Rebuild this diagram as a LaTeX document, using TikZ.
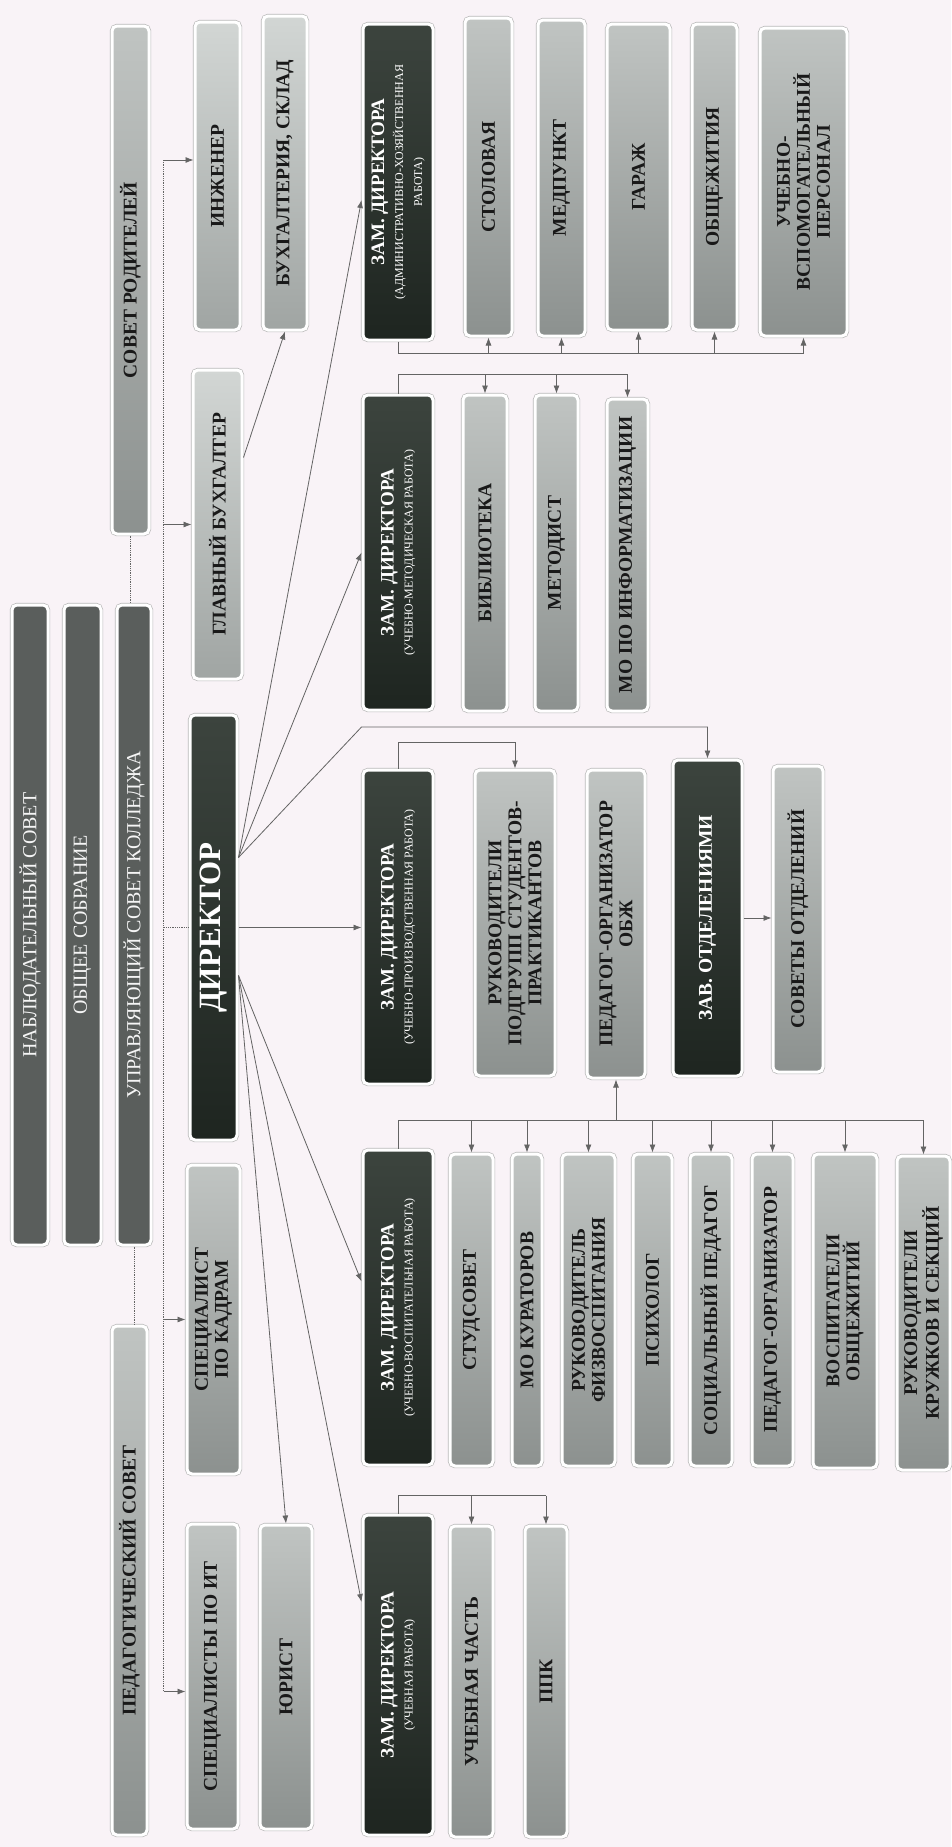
\documentclass[tikz,border=0pt]{standalone}
\usepackage{fontspec}
\setmainfont{Liberation Serif}
\usetikzlibrary{arrows.meta}
\definecolor{bgpaper}{RGB}{249,243,247}
\definecolor{zamtop}{RGB}{60,68,62}
\definecolor{zambot}{RGB}{30,37,32}
\definecolor{sovfill}{RGB}{90,94,92}
\definecolor{boxtop}{RGB}{192,196,194}
\definecolor{boxbot}{RGB}{140,145,143}
\definecolor{paletop}{RGB}{210,214,212}
\definecolor{palebot}{RGB}{160,165,163}
\definecolor{linegray}{RGB}{100,100,100}
\newcommand{\zamsub}{\fontsize{12}{12}\selectfont\mdseries}

\begin{document}
\begin{tikzpicture}[x=1pt, y=-1pt, >={Latex[length=8pt,width=6pt]},
    every node/.style={rotate=90, rounded corners=5pt, align=center, inner sep=2pt},
    rim/.style={draw=white, line width=3pt, preaction={draw=gray!55, line width=4.4pt}},
    lightbox/.style={rim, top color=boxtop, bottom color=boxbot, text=black!90,
        font=\fontsize{19.5}{20}\selectfont\bfseries},
    palebox/.style={lightbox, top color=paletop, bottom color=palebot},
    zambox/.style={rim, top color=zamtop, bottom color=zambot, text=white,
        font=\fontsize{19}{19}\selectfont\bfseries},
    sovbox/.style={rim, fill=sovfill, text=white!92!gray,
        font=\fontsize{20}{20}\selectfont},
    link/.style={draw=linegray, line width=0.8pt},
    bus/.style={link, densely dotted}]
    \useasboundingbox (0,0) rectangle (951,1847);
    \fill[bgpaper] (0,0) rectangle (951,1847);

    % councils
    \node[sovbox, minimum width=640pt, minimum height=36pt] (nab) at (30,925) {НАБЛЮДАТЕЛЬНЫЙ СОВЕТ};
    \node[sovbox, minimum width=640pt, minimum height=37pt] (obs) at (82.5,925) {ОБЩЕЕ СОБРАНИЕ};
    \node[sovbox, minimum width=640pt, minimum height=34pt] (upr) at (134,925) {УПРАВЛЯЮЩИЙ СОВЕТ КОЛЛЕДЖА};
    \node[lightbox, minimum width=508pt, minimum height=37pt] (srod) at (130.5,280) {СОВЕТ РОДИТЕЛЕЙ};
    \node[lightbox, minimum width=509pt, minimum height=35pt] (ped) at (129.5,1580.5) {ПЕДАГОГИЧЕСКИЙ СОВЕТ};

    % director and staff
    \node[palebox, minimum width=308pt, minimum height=45pt] (inz) at (217.5,176) {ИНЖЕНЕР};
    \node[palebox, minimum width=314pt, minimum height=44pt] (buh) at (285,173) {БУХГАЛТЕРИЯ, СКЛАД};
    \node[palebox, minimum width=309pt, minimum height=49pt] (glb) at (217.5,524.5) {ГЛАВНЫЙ БУХГАЛТЕР};
    \node[zambox, minimum width=425pt, minimum height=47pt,
        font=\fontsize{31}{31}\selectfont\bfseries] (dir) at (213.5,927.5) {ДИРЕКТОР};
    \node[lightbox, minimum width=309pt, minimum height=53pt] (kadr) at (213.5,1319.5) {СПЕЦИАЛИСТ\\ПО КАДРАМ};
    \node[lightbox, minimum width=305pt, minimum height=51pt] (spit) at (212.5,1676.5) {СПЕЦИАЛИСТЫ ПО ИТ};
    \node[lightbox, minimum width=304pt, minimum height=52pt] (yur) at (286,1677) {ЮРИСТ};

    % deputies
    \node[zambox, minimum width=316pt, minimum height=70pt] (zamAHR) at (398,182)
        {ЗАМ. ДИРЕКТОРА\\{\zamsub (АДМИНИСТРАТИВНО-ХОЗЯЙСТВЕННАЯ}\\{\zamsub РАБОТА)}};
    \node[zambox, minimum width=315pt, minimum height=70pt] (zamUMR) at (398,552.5)
        {ЗАМ. ДИРЕКТОРА\\{\zamsub (УЧЕБНО-МЕТОДИЧЕСКАЯ РАБОТА)}};
    \node[zambox, minimum width=314pt, minimum height=70pt] (zamUPR) at (398,927)
        {ЗАМ. ДИРЕКТОРА\\{\zamsub (УЧЕБНО-ПРОИЗВОДСТВЕННАЯ РАБОТА)}};
    \node[zambox, minimum width=315pt, minimum height=70pt] (zamUVR) at (398,1307.5)
        {ЗАМ. ДИРЕКТОРА\\{\zamsub (УЧЕБНО-ВОСПИТАТЕЛЬНАЯ РАБОТА)}};
    \node[zambox, minimum width=320pt, minimum height=70pt] (zamUR) at (398,1675)
        {ЗАМ. ДИРЕКТОРА\\{\zamsub (УЧЕБНАЯ РАБОТА)}};

    % administrative services
    \node[lightbox, minimum width=318pt, minimum height=47pt] (stol) at (488.5,177) {СТОЛОВАЯ};
    \node[lightbox, minimum width=316pt, minimum height=47pt] (medp) at (561.5,178) {МЕДПУНКТ};
    \node[lightbox, minimum width=306pt, minimum height=63pt] (gar) at (638.5,177) {ГАРАЖ};
    \node[lightbox, minimum width=306pt, minimum height=45pt] (obsch) at (714.5,177) {ОБЩЕЖИТИЯ};
    \node[lightbox, minimum width=308pt, minimum height=87pt] (uvp) at (803.5,182) {УЧЕБНО-\\ВСПОМОГАТЕЛЬНЫЙ\\ПЕРСОНАЛ};

    % methodical work
    \node[lightbox, minimum width=316pt, minimum height=44pt] (bibl) at (485,553) {БИБЛИОТЕКА};
    \node[lightbox, minimum width=316pt, minimum height=43pt] (metod) at (556.5,553) {МЕТОДИСТ};
    \node[lightbox, minimum width=312pt, minimum height=41pt] (moinf) at (627.5,555) {МО ПО ИНФОРМАТИЗАЦИИ};

    % practical work
    \node[lightbox, minimum width=306pt, minimum height=80pt] (rukp) at (515,923) {РУКОВОДИТЕЛИ\\ПОДГРУПП СТУДЕНТОВ-\\ПРАКТИКАНТОВ};
    \node[lightbox, minimum width=308pt, minimum height=58pt] (obzh) at (616,924) {ПЕДАГОГ-ОРГАНИЗАТОР\\ОБЖ};
    \node[zambox, minimum width=316pt, minimum height=69pt, font=\fontsize{19.5}{20}\selectfont\bfseries] (zav) at (707.5,918) {ЗАВ. ОТДЕЛЕНИЯМИ};
    \node[lightbox, minimum width=306pt, minimum height=50pt] (sovo) at (798,919) {СОВЕТЫ ОТДЕЛЕНИЙ};

    % educational work
    \node[lightbox, minimum width=312pt, minimum height=43pt] (stud) at (471.5,1310) {СТУДСОВЕТ};
    \node[lightbox, minimum width=312pt, minimum height=30pt] (mokur) at (527,1310) {МО КУРАТОРОВ};
    \node[lightbox, minimum width=312pt, minimum height=53pt] (fizv) at (588.5,1310) {РУКОВОДИТЕЛЬ\\ФИЗВОСПИТАНИЯ};
    \node[lightbox, minimum width=312pt, minimum height=39pt] (psih) at (652.5,1310) {ПСИХОЛОГ};
    \node[lightbox, minimum width=312pt, minimum height=42pt] (socp) at (711,1310) {СОЦИАЛЬНЫЙ ПЕДАГОГ};
    \node[lightbox, minimum width=312pt, minimum height=41pt] (porg) at (772.5,1310) {ПЕДАГОГ-ОРГАНИЗАТОР};
    \node[lightbox, minimum width=314pt, minimum height=64pt] (vosp) at (845,1311) {ВОСПИТАТЕЛИ\\ОБЩЕЖИТИЙ};
    \node[lightbox, minimum width=314pt, minimum height=53pt] (rkruz) at (923.5,1313) {РУКОВОДИТЕЛИ\\КРУЖКОВ И СЕКЦИЙ};

    % teaching
    \node[lightbox, minimum width=311pt, minimum height=43pt] (uchch) at (471.5,1681.5) {УЧЕБНАЯ ЧАСТЬ};
    \node[lightbox, minimum width=311pt, minimum height=42pt] (ppk) at (546,1681.5) {ППК};

    % council links
    \draw[bus] (srod.west) -- (srod.west |- upr.east);
    \draw[bus] (upr.west) -- (upr.west |- ped.east);

    % staff bus left of the director
    \coordinate (busl) at ([xshift=-25pt]dir.north);
    \coordinate (inzA) at ([yshift=16pt]inz.north);
    \coordinate (itA) at ([yshift=-15pt]spit.north);
    \draw[bus] (dir.north) -- (busl);
    \draw[bus] (busl |- inzA) -- (busl |- itA);
    \foreach \t in {inzA, glb.north, kadr.north, itA}
        \draw[link, ->] (busl |- \t) -- (\t);
    \draw[link, ->] ([yshift=67pt]glb.south) -- (buh.west);

    % director to deputies
    \coordinate (zavb) at ([yshift=200pt]zamUPR.north);
    \draw[link, ->] ([yshift=70pt]dir.south) -- ([yshift=-18pt]zamAHR.north);
    \draw[link, ->] ([yshift=70pt]dir.south) -- (zamUMR.north);
    \draw[link, ->] ([yshift=70pt]dir.south) -- (zavb) -| (zav.east);
    \draw[link, ->] (dir.south) -- (dir.south -| zamUPR.north);
    \draw[link, ->] ([yshift=-48pt]dir.south) -- ([yshift=26pt]zamUVR.north);
    \draw[link, ->] ([yshift=-48pt]dir.south) -- (yur.east);
    \draw[link, ->] ([yshift=-48pt]dir.south) -- ([yshift=73pt]zamUR.north);

    % deputies to their units
    \coordinate (ahrb) at ([yshift=-12pt]zamAHR.west);
    \draw[link] (zamAHR.west) -- (ahrb) -- (ahrb -| uvp.west);
    \foreach \c in {stol, medp, gar, obsch, uvp}
        \draw[link, ->] (ahrb -| \c.west) -- (\c.west);

    \coordinate (umrb) at ([yshift=19pt]zamUMR.east);
    \draw[link] (zamUMR.east) -- (umrb) -- (umrb -| moinf.east);
    \foreach \c in {bibl, metod, moinf}
        \draw[link, ->] (umrb -| \c.east) -- (\c.east);

    \coordinate (uprb) at ([yshift=26pt]zamUPR.east);
    \draw[link] (zamUPR.east) -- (uprb);
    \draw[link, ->] (uprb) -| (rukp.east);
    \draw[link, ->] (zav.south) -- (zav.south -| sovo.north);

    \coordinate (uvrb) at ([yshift=28pt]zamUVR.east);
    \draw[link] (zamUVR.east) -- (uvrb) -- (uvrb -| rkruz.east);
    \foreach \c in {stud, mokur, fizv, psih, socp, porg, vosp, rkruz}
        \draw[link, ->] (uvrb -| \c.east) -- (\c.east);
    \draw[link, ->] (uvrb -| obzh.west) -- (obzh.west);

    \coordinate (urb) at ([yshift=18pt]zamUR.east);
    \draw[link] (zamUR.east) -- (urb) -- (urb -| ppk.east);
    \foreach \c in {uchch, ppk}
        \draw[link, ->] (urb -| \c.east) -- (\c.east);
\end{tikzpicture}
\end{document}
